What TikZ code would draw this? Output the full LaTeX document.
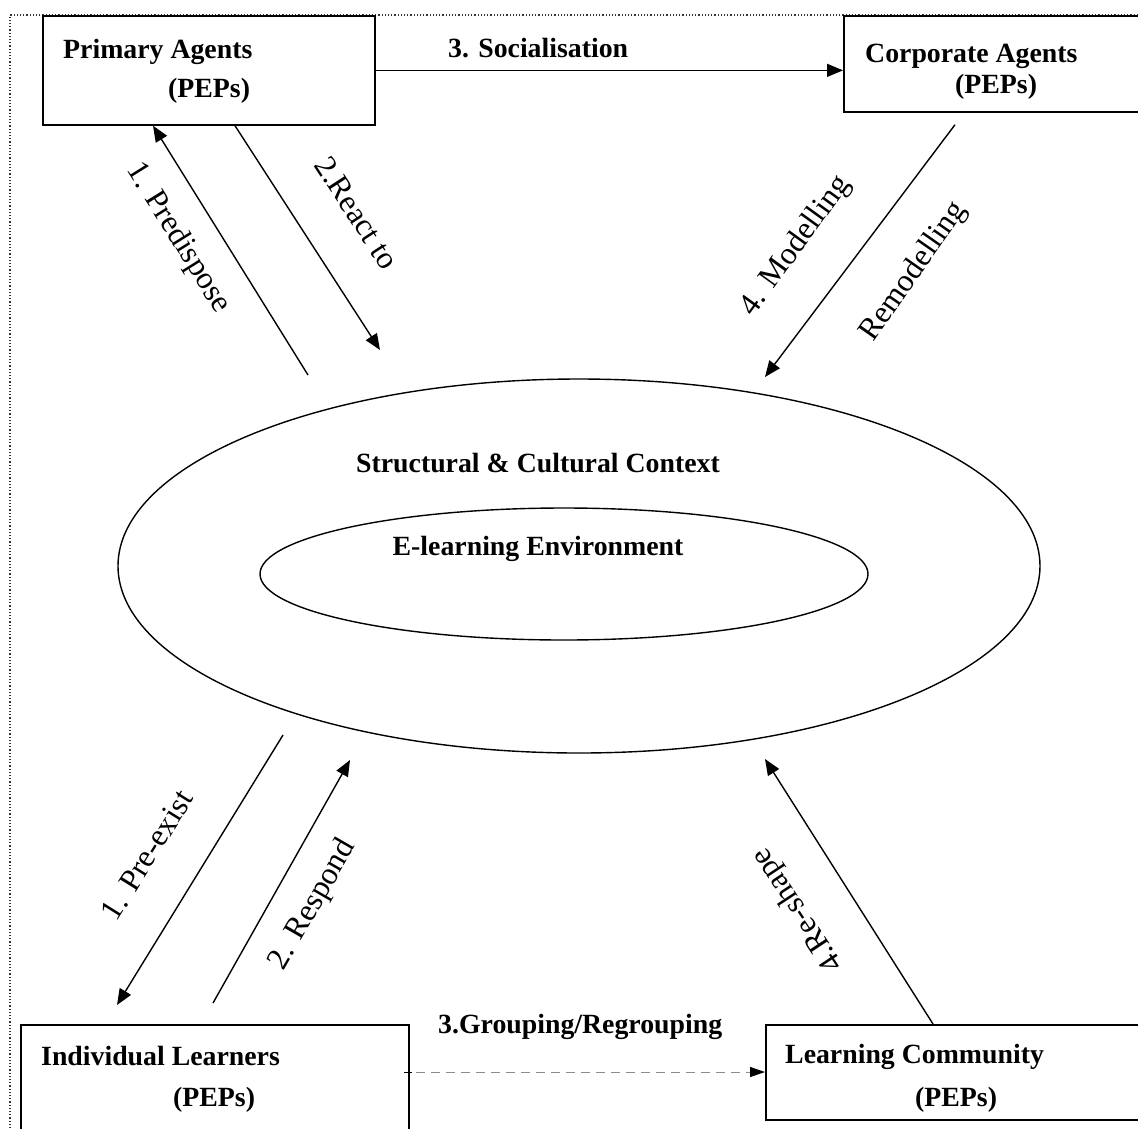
\documentclass[tikz,border=0pt]{standalone}
\usepackage{fontspec}
\setmainfont{Liberation Serif}
\usetikzlibrary{arrows.meta,shapes.geometric,calc}
\begin{document}
\begin{tikzpicture}[x=1pt,y=-1pt,
  agentbox/.style={draw,line width=1.7pt,rectangle,inner sep=0pt,anchor=north west},
  boxtext/.style={font=\fontsize{27.8}{33}\selectfont\bfseries,anchor=base west,inner sep=0pt},
  flowlabel/.style={font=\fontsize{31.5}{36}\selectfont,inner sep=0pt},
  flow/.style={line width=1.4pt,-{Triangle[length=16pt,width=13pt]}},
  ring/.style={draw,ellipse,line width=1.4pt,inner sep=0pt}]
\useasboundingbox (0,0) rectangle (1138,1128);
\clip (0,0) rectangle (1138,1128);

% dotted frame
\draw[dotted,line width=1.2pt,black!80] (1138,15) -- (10,15) -- (10,1128);

% agent boxes
\node[agentbox,minimum width=332pt,minimum height=109pt] (prim) at (42,15) {};
\node[agentbox,minimum width=320pt,minimum height=96pt] (corp) at (843,15) {};
\node[agentbox,minimum width=388pt,minimum height=130pt] (indiv) at (20,1024) {};
\node[agentbox,minimum width=390pt,minimum height=95pt] (comm) at (765,1024) {};

\node[boxtext] (primA) at (63,58) {Primary Agents};
\node[boxtext] (primB) at (168,97) {(PEPs)};
\node[boxtext] (corpA) at (865,62) {Corporate Agents};
\node[boxtext] (corpB) at (955,93) {(PEPs)};
\node[boxtext] (indivA) at (41,1065) {Individual Learners};
\node[boxtext] (indivB) at (173,1106) {(PEPs)};
\node[boxtext] (commA) at (785,1063) {Learning Community};
\node[boxtext] (commB) at (915,1106) {(PEPs)};

% context ellipses
\node[ring,minimum width=922pt,minimum height=374pt] (outer) at (579,566) {};
\node[ring,minimum width=608pt,minimum height=132pt] (inner) at (564,574) {};
\node[boxtext,anchor=base] (ctx) at (538,472) {Structural \& Cultural Context};
\node[boxtext,anchor=base] (env) at (538,555) {E-learning Environment};

% free ends of the connectors near the context
\coordinate (pdA) at (308,375);
\coordinate (rtB) at (380,350);
\coordinate (mdB) at (765,377);
\coordinate (peA) at (283,735);
\coordinate (rsB) at (350,760);
\coordinate (shB) at (765,759);

% top connectors
\draw[flow] (prim.east) -- (prim.east -| corp.west);
\node[boxtext] (soc) at (448,57) {3. Socialisation};

\draw[flow] (pdA) -- ($(prim.south west)+(111,0)$);
\draw[flow] ($(prim.south west)+(193,0)$) -- (rtB);
\draw[flow] ($(corp.south west)+(112,12)$) -- (mdB);

\node[flowlabel,rotate=-58] (lpd) at (178,238) {1. Predispose};
\node[flowlabel,rotate=-57] (lrt) at (357,213) {2.React to};
\node[flowlabel,rotate=54] (lmd) at (796,246) {4. Modelling};
\node[flowlabel,rotate=55] (lrm) at (914,272) {Remodelling};

% bottom connectors
\draw[flow] (peA) -- ($(indiv.north west)+(97,-19)$);
\draw[flow] ($(indiv.north west)+(193,-21)$) -- (rsB);
\draw[flow] ($(comm.north west)+(168,0)$) -- (shB);

\node[flowlabel,rotate=58] (lpe) at (147,855) {1. Pre-exist};
\node[flowlabel,rotate=60] (lrs) at (313,905) {2. Respond};
\node[flowlabel,rotate=123.4] (lsh) at (798,910) {4.Re-shape};

% grouping connector: short solid start, grey dashed run, solid head
\coordinate (grA) at (408,1072);
\draw[line width=1pt] ($(grA)+(-4,0)$) -- ($(grA)+(4,0)$);
\draw[black!45,line width=1pt,dash pattern=on 9pt off 6pt] ($(grA)+(8,0)$) -- ($(grA -| comm.west)+(-14,0)$);
\draw[line width=1pt,-{Triangle[length=15pt,width=10pt]}] ($(grA -| comm.west)+(-14,0)$) -- (grA -| comm.west);
\node[boxtext] (grp) at (438,1033) {3.Grouping/Regrouping};
\end{tikzpicture}
\end{document}
